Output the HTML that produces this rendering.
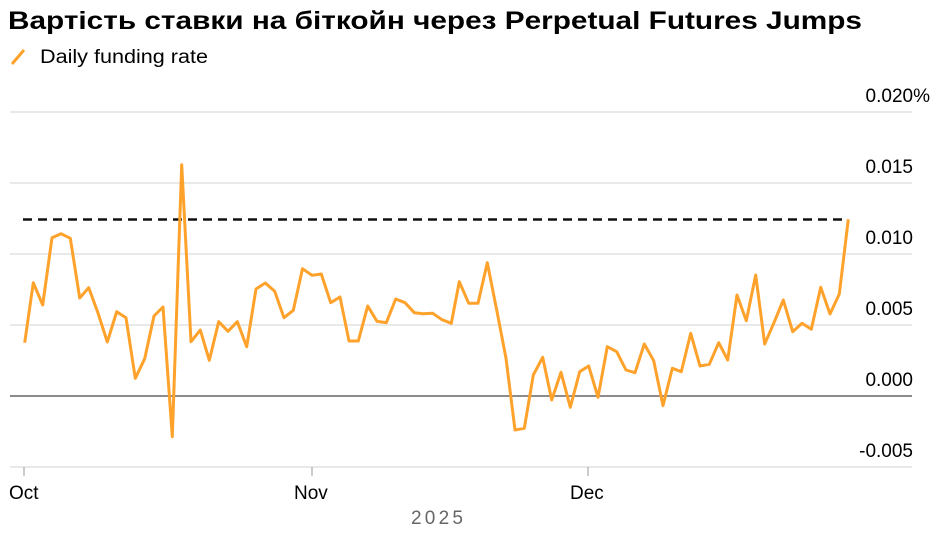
<!DOCTYPE html>
<html><head><meta charset="utf-8"><style>
body{margin:0;background:#fff;width:936px;height:544px;overflow:hidden;font-family:"Liberation Sans",sans-serif}
</style></head><body>
<svg width="936" height="544" xmlns="http://www.w3.org/2000/svg" font-family="Liberation Sans, sans-serif">
<text x="8" y="29" font-size="25" font-weight="bold" fill="#000" textLength="854" lengthAdjust="spacingAndGlyphs">Вартість ставки на біткойн через Perpetual Futures Jumps</text>
<line x1="12" y1="64" x2="24" y2="50" stroke="#ffa22b" stroke-width="3"/>
<text x="40" y="63" font-size="19" fill="#000" textLength="168" lengthAdjust="spacingAndGlyphs">Daily funding rate</text>
<g stroke="#e2e2e2" stroke-width="1.5">
<line x1="10" y1="112" x2="912" y2="112"/><line x1="10" y1="183" x2="912" y2="183"/>
<line x1="10" y1="254" x2="912" y2="254"/><line x1="10" y1="325" x2="912" y2="325"/>
<line x1="10" y1="467" x2="912" y2="467"/>
</g>
<line x1="10" y1="396" x2="912" y2="396" stroke="#666" stroke-width="1.5"/>
<g stroke="#999" stroke-width="1"><line x1="24" y1="467" x2="24" y2="476"/><line x1="312" y1="467" x2="312" y2="476"/><line x1="588" y1="467" x2="588" y2="476"/></g>
<g font-size="19" fill="#000" text-anchor="end">
<text x="930" y="102">0.020%</text><text x="913" y="173">0.015</text><text x="913" y="244">0.010</text>
<text x="913" y="315">0.005</text><text x="913" y="386">0.000</text><text x="913" y="457">-0.005</text>
</g>
<g font-size="19" fill="#000"><text x="9" y="499">Oct</text><text x="294" y="499">Nov</text><text x="570" y="499">Dec</text></g>
<text x="411" y="524" font-size="19" fill="#666" textLength="52" lengthAdjust="spacing">2025</text>
<line x1="23" y1="219.5" x2="848" y2="219.5" stroke="#111" stroke-width="2.5" stroke-dasharray="9,6"/>
<polyline fill="none" stroke="#ffa22b" stroke-width="3" stroke-linejoin="round" points="24.7,342.7 33.3,282.7 42.7,305 52,237.7 61,233.7 70.3,238.3 79.7,298 88.7,287.7 98,313 107.3,342 116.7,311.7 126,317.7 135.3,378.3 144.7,358.7 154,316 163,307 172.3,436.7 181.7,164.7 191,341.7 200.3,330 209.3,360.3 218.7,321.7 228,331.3 237.3,321.7 246.7,346.7 256,289 265.3,283 274.7,291.3 284,317.7 293.3,310.3 302.5,268.7 312,275.3 321.3,274 330.7,302.7 340,297 349,341 358.3,341 367.7,306 377,321.3 386.3,322.7 395.7,299 405,302.7 414.3,312.7 423.3,313.7 432.7,313.3 442,319.7 451.3,323.3 459.3,281.7 468.7,303.3 478,303.3 487.3,262.7 496.7,310 506,358.3 515,430 524.3,428.3 533.3,375 542.7,357.3 551.7,400 561,372.3 570.3,407.3 579.7,371.7 588.7,366 598,397.3 607.3,346.7 616.7,351.7 626,370 635,372.7 644.3,344 653.7,360.7 663,405.7 672.3,368.3 681.3,371.7 690.7,333.3 700,366 709.3,364.3 718.7,342.7 727.7,360 737,295 746.3,320.7 755.7,275 764.7,344 774,322.7 783.3,300 792.7,331.7 802,323.3 811.3,329.3 820.7,287.3 830,314 839.3,294 848.3,219.3"/>
</svg>
</body></html>
